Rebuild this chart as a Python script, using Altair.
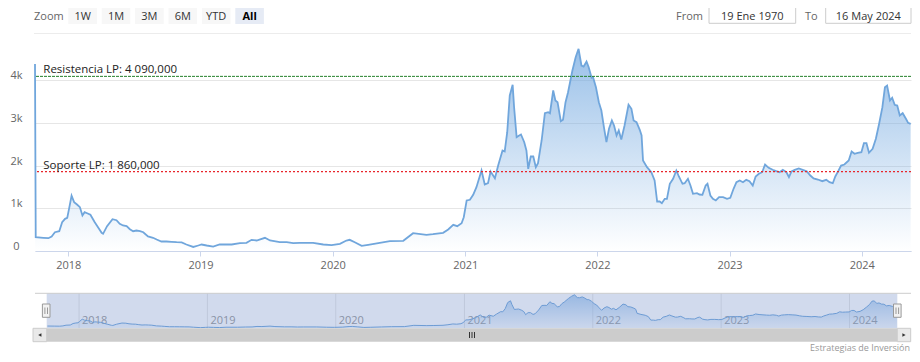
import altair as alt
import pandas as pd

# ---------------- data ----------------
dates = [
    "2017-10-01", "2017-10-03", "2017-10-24", "2017-11-07", "2017-11-16", "2017-11-25", "2017-12-07", "2017-12-15", "2017-12-23", "2017-12-29",
    "2018-01-03", "2018-01-10", "2018-01-17", "2018-01-25", "2018-02-02", "2018-02-09", "2018-02-15", "2018-02-22", "2018-03-03", "2018-03-15",
    "2018-03-24", "2018-04-03", "2018-04-07", "2018-04-18", "2018-05-03", "2018-05-14", "2018-05-23", "2018-06-01", "2018-06-11", "2018-06-20",
    "2018-06-29", "2018-07-08", "2018-07-18", "2018-07-27", "2018-08-09", "2018-08-23", "2018-09-02", "2018-09-15", "2018-09-29", "2018-10-13",
    "2018-10-27", "2018-11-10", "2018-11-23", "2018-12-12", "2018-12-26", "2019-01-04", "2019-01-18", "2019-02-05", "2019-02-23", "2019-03-28",
    "2019-04-20", "2019-05-08", "2019-05-22", "2019-06-05", "2019-06-28", "2019-07-12", "2019-08-08", "2019-08-27", "2019-09-14", "2019-10-02",
    "2019-11-08", "2019-12-06", "2019-12-29", "2020-01-21", "2020-02-08", "2020-02-17", "2020-03-02", "2020-03-21", "2020-04-08", "2020-05-10",
    "2020-06-07", "2020-07-14", "2020-08-10", "2020-09-16", "2020-10-04", "2020-11-01", "2020-11-15", "2020-11-29", "2020-12-10", "2020-12-22",
    "2020-12-28", "2021-01-05", "2021-01-14", "2021-01-23", "2021-02-01", "2021-02-15", "2021-02-24", "2021-03-05", "2021-03-12", "2021-03-24",
    "2021-04-02", "2021-04-14", "2021-04-20", "2021-04-27", "2021-05-04", "2021-05-12", "2021-05-16", "2021-05-23", "2021-05-30", "2021-06-04",
    "2021-06-13", "2021-06-19", "2021-06-24", "2021-07-01", "2021-07-08", "2021-07-15", "2021-07-21", "2021-07-31", "2021-08-09", "2021-08-18",
    "2021-08-23", "2021-09-01", "2021-09-07", "2021-09-13", "2021-09-22", "2021-09-28", "2021-10-05", "2021-10-12", "2021-10-24", "2021-11-02",
    "2021-11-10", "2021-11-18", "2021-11-24", "2021-12-02", "2021-12-08", "2021-12-16", "2021-12-20", "2021-12-28", "2022-01-05", "2022-01-12",
    "2022-01-19", "2022-01-26", "2022-02-02", "2022-02-10", "2022-02-16", "2022-02-23", "2022-03-01", "2022-03-08", "2022-03-17", "2022-03-28",
    "2022-04-05", "2022-04-11", "2022-04-19", "2022-04-28", "2022-05-03", "2022-05-07", "2022-05-18", "2022-05-30", "2022-06-08", "2022-06-15",
    "2022-06-22", "2022-06-28", "2022-07-06", "2022-07-12", "2022-07-20", "2022-07-29", "2022-08-07", "2022-08-14", "2022-08-24", "2022-08-30",
    "2022-09-08", "2022-09-15", "2022-09-22", "2022-10-03", "2022-10-10", "2022-10-18", "2022-10-27", "2022-11-01", "2022-11-09", "2022-11-16",
    "2022-11-24", "2022-12-03", "2022-12-14", "2022-12-25", "2023-01-03", "2023-01-12", "2023-01-20", "2023-01-29", "2023-02-07", "2023-02-16",
    "2023-02-25", "2023-03-06", "2023-03-14", "2023-03-23", "2023-04-01", "2023-04-09", "2023-04-19", "2023-04-30", "2023-05-10", "2023-05-19",
    "2023-05-28", "2023-06-07", "2023-06-14", "2023-06-21", "2023-06-30", "2023-07-11", "2023-07-22", "2023-08-02", "2023-08-12", "2023-08-21",
    "2023-09-02", "2023-09-14", "2023-09-25", "2023-10-04", "2023-10-13", "2023-10-20", "2023-10-28", "2023-11-05", "2023-11-14", "2023-11-26",
    "2023-12-04", "2023-12-12", "2023-12-21", "2023-12-31", "2024-01-07", "2024-01-14", "2024-01-21", "2024-01-31", "2024-02-09", "2024-02-18",
    "2024-02-27", "2024-03-05", "2024-03-11", "2024-03-19", "2024-03-25", "2024-04-01", "2024-04-08", "2024-04-15", "2024-04-23", "2024-05-02",
    "2024-05-08", "2024-05-15",
]
values = [
    4380, 323, 309, 300, 340, 440, 464, 675, 754, 777,
    988, 1293, 1143, 1089, 1026, 831, 909, 885, 848, 675,
    558, 426, 403, 581, 745, 721, 637, 597, 581, 511,
    464, 480, 464, 440, 340, 309, 269, 222, 222, 215,
    206, 200, 152, 95, 129, 152, 129, 105, 152, 152,
    183, 192, 262, 246, 309, 246, 206, 206, 183, 192,
    192, 152, 136, 169, 246, 262, 206, 122, 145, 192,
    230, 239, 417, 379, 393, 426, 503, 614, 581, 651,
    792, 1183, 1199, 1316, 1494, 1885, 1557, 1588, 1862, 1705,
    2002, 2354, 2330, 2782, 3642, 3892, 3368, 2665, 2705, 2728,
    2548, 2354, 1925, 2213, 2213, 1963, 2056, 2588, 3227, 3251,
    3227, 3759, 3525, 3485, 3040, 3072, 3485, 3719, 4227, 4539,
    4735, 4344, 4321, 4438, 4304, 4056, 4070, 3836, 3485, 3290,
    2899, 2548, 2862, 3056, 2939, 2705, 2822, 2611, 2939, 3424,
    3330, 3056, 3017, 2838, 2705, 2119, 1963, 1845, 1651, 1159,
    1159, 1120, 1222, 1222, 1574, 1691, 1885, 1745, 1574, 1588,
    1691, 1534, 1340, 1354, 1323, 1316, 1534, 1574, 1300, 1222,
    1183, 1260, 1260, 1222, 1246, 1457, 1611, 1651, 1611, 1667,
    1635, 1534, 1745, 1808, 1845, 2026, 1948, 1902, 1869, 1845,
    1902, 1845, 1729, 1862, 1902, 1932, 1902, 1869, 1768, 1698,
    1674, 1635, 1667, 1611, 1588, 1745, 1869, 2002, 2026, 2119,
    2330, 2276, 2300, 2314, 2525, 2525, 2300, 2393, 2628, 2979,
    3368, 3836, 3876, 3525, 3588, 3424, 3407, 3173, 3227, 3096,
    3002, 2979,
]

levels = [4090, 1860]
level_labels = ["Resistencia LP: 4 090,000", "Soporte LP: 1 860,000"]

year_ticks = ["2018-01-01", "2019-01-01", "2020-01-01", "2021-01-01",
              "2022-01-01", "2023-01-01", "2024-01-01"]
year_labels = ["2018", "2019", "2020", "2021", "2022", "2023", "2024"]
y_ticks = [0, 1000, 2000, 3000, 4000]

buttons = ["1W", "1M", "3M", "6M", "YTD", "All"]
selected_button = "All"
from_text = "19 Ene 1970"
to_text = "16 May 2024"
credits_text = "Estrategias de Inversión"

range_start = "2017-10-01"
range_end = "2024-05-16"

# ---------------- styles ----------------
FONT = "Open Sans"
LINE = "#70a6dc"
GRID = "#e6e6e6"
AXIS = "#ccd6eb"
LEVEL_COLORS = ["#23802a", "#e8262b"]
LEVEL_DASH = [[3, 1], [2, 2]]
LEVEL_WIDTH = [1, 1.3]


def ts(s):
    return int(pd.Timestamp(s, tz="UTC").timestamp() * 1000)


t0, t1 = ts(range_start), ts(range_end)
year_ts = [ts(s) for s in year_ticks]

df = pd.DataFrame({"date": dates, "value": values})
df_nav = df.iloc[1:]
df_years = pd.DataFrame({"date": year_ticks, "label": year_labels})
one = pd.DataFrame({"k": [0]})

W, H = 876, 207

# ---------------- main chart ----------------
xs_main = alt.Scale(type="utc", domain=[t0, t1])
ys_main = alt.Scale(domain=[0, 4848], nice=False)

x_axis = alt.Axis(values=year_ts, labelExpr="utcFormat(datum.value, '%Y')", title=None,
                  grid=False, domainColor=AXIS, tickColor=AXIS, tickSize=5,
                  labelColor="#666666", labelFont=FONT, labelFontSize=11,
                  labelPadding=3.5, labelBaseline="top", labelFlush=False)
y_axis = alt.Axis(values=y_ticks,
                  labelExpr="datum.value == 0 ? '0' : format(datum.value / 1000, 'd') + 'k'",
                  title=None, grid=True, gridColor=GRID, domain=False, ticks=False, tickSize=0,
                  labelColor="#666666", labelFont=FONT, labelFontSize=11, labelAlign="center",
                  labelPadding=19, labelBaseline="alphabetic", labelOffset=-1.5)

grad_main = alt.Gradient(
    gradient="linear",
    stops=[alt.GradientStop(color="#6fa6df", offset=0),
           alt.GradientStop(color="rgba(111,166,223,0)", offset=1)],
    x1=1, x2=1, y1=0, y2=1,
)

area = alt.Chart(df).mark_area(
    color=grad_main, line={"color": LINE, "strokeWidth": 1.8}
).encode(
    x=alt.X("date:T", scale=xs_main, axis=x_axis),
    y=alt.Y("value:Q", scale=ys_main, axis=y_axis),
)

main_layers = [area]
for i in range(len(levels)):
    ldf = pd.DataFrame({"level": [levels[i]], "label": [level_labels[i]]})
    main_layers.append(
        alt.Chart(ldf).mark_rule(color=LEVEL_COLORS[i], strokeWidth=LEVEL_WIDTH[i],
                                 strokeDash=LEVEL_DASH[i], opacity=1)
        .encode(y=alt.Y("level:Q", scale=ys_main, axis=y_axis))
    )
    main_layers.append(
        alt.Chart(ldf).mark_text(align="left", baseline="alphabetic", dy=-3, font=FONT,
                                 fontSize=11.5, color="#222222")
        .encode(x=alt.value(8.3), y=alt.Y("level:Q", scale=ys_main, axis=y_axis), text="label:N")
    )
main = alt.layer(*main_layers)

# ---------------- navigator ----------------
NAV_TOP, NAV_BOT = 249.3, 284.3
NAV_L, NAV_R = 11.7, 862.3
xs_nav = alt.Scale(type="utc", domain=[t0, t1], range=[NAV_L, NAV_R])
ys_nav = alt.Scale(domain=[0, 4950], range=[NAV_BOT, NAV_TOP], nice=False)

grad_nav = alt.Gradient(
    gradient="linear",
    stops=[alt.GradientStop(color="#8dbbea", offset=0),
           alt.GradientStop(color="rgba(141,187,234,0.1)", offset=1)],
    x1=1, x2=1, y1=0, y2=1,
)

nav_grid = alt.Chart(df_years).mark_rule(color=GRID, strokeWidth=1).encode(
    x=alt.X("date:T", scale=xs_nav, axis=None),
    y=alt.value(NAV_TOP), y2=alt.value(NAV_BOT),
)
nav_labels = alt.Chart(df_years).mark_text(
    align="left", baseline="middle", dx=3, font=FONT, fontSize=11, color="#999999"
).encode(
    x=alt.X("date:T", scale=xs_nav, axis=None), y=alt.value(277), text="label:N",
)
nav_area = alt.Chart(df_nav).mark_area(
    color=grad_nav, line={"color": LINE, "strokeWidth": 1}
).encode(
    x=alt.X("date:T", scale=xs_nav, axis=None),
    y=alt.Y("value:Q", scale=ys_nav, axis=None),
)
nav = alt.layer(nav_grid, nav_labels, nav_area)


# ---------------- chrome helpers ----------------
def rect(x1, x2, y1, y2, fill, stroke=None, opacity=1.0, sw=1):
    kw = dict(fill=fill, opacity=opacity)
    if stroke:
        kw.update(stroke=stroke, strokeWidth=sw)
    return alt.Chart(one).mark_rect(**kw).encode(
        x=alt.value(x1), x2=alt.value(x2), y=alt.value(y1), y2=alt.value(y2))


def seg(x1, x2, y1, y2, color, sw=1):
    return alt.Chart(one).mark_rule(color=color, strokeWidth=sw).encode(
        x=alt.value(x1), x2=alt.value(x2), y=alt.value(y1), y2=alt.value(y2))


def label(txt, x, y, size=11, color="#666666", align="left", weight="normal", baseline="middle"):
    return alt.Chart(one).mark_text(align=align, baseline=baseline, font=FONT, fontSize=size,
                                    color=color, fontWeight=weight).encode(
        x=alt.value(x), y=alt.value(y), text=alt.value(txt))


chrome = []
# mask over navigator + outline + handles
chrome.append(rect(NAV_L, NAV_R, NAV_TOP, NAV_BOT, "#6685c2", opacity=0.3))
chrome.append(seg(0, W, NAV_TOP, NAV_TOP, "#cccccc"))
for hc in (NAV_L - 0.5, NAV_R):
    chrome.append(rect(hc - 3.8, hc + 3.8, 260, 273.3, "#f2f2f2", stroke="#999999"))
    chrome.append(seg(hc - 1.3, hc - 1.3, 263.5, 270, "#999999"))
    chrome.append(seg(hc + 1.3, hc + 1.3, 263.5, 270, "#999999"))

# scrollbar
SB_T, SB_B = NAV_BOT, 297.7
chrome.append(rect(NAV_L, NAV_R, SB_T, SB_B, "#cccccc"))
chrome.append(rect(-2, NAV_L, SB_T, SB_B, "#e9e9e9", stroke="#cccccc"))
chrome.append(rect(NAV_R, W - 0.3, SB_T, SB_B, "#e9e9e9", stroke="#cccccc"))
mid = (NAV_L + NAV_R) / 2
for dxr in (-2.5, 0, 2.5):
    chrome.append(seg(mid + dxr, mid + dxr, 288, 294, "#333333"))
chrome.append(alt.Chart(one).mark_point(shape="triangle-left", filled=True, size=14, color="#333333",
                                        opacity=1).encode(x=alt.value(4.8), y=alt.value(291)))
chrome.append(alt.Chart(one).mark_point(shape="triangle-right", filled=True, size=14, color="#333333",
                                        opacity=1).encode(x=alt.value(869), y=alt.value(291)))

# credits
chrome.append(label(credits_text, W - 1, 304, size=9, color="#999999", align="right"))

# range selector header (text baselines placed so the glyph boxes stay inside the page)
HY = -24.3
chrome.append(label("Zoom", -1, HY, size=11, color="#666666", baseline="alphabetic"))
bx0, bstep, bw = 33.3, 33.4, 28.6
for i, b in enumerate(buttons):
    x1 = bx0 + i * bstep
    sel = b == selected_button
    chrome.append(rect(x1, x1 + bw, -40, -20, "#e6ebf5" if sel else "#f7f7f7"))
    chrome.append(label(b, x1 + bw / 2, HY, size=11, color="#000000" if sel else "#333333",
                        align="center", weight="bold" if sel else "normal", baseline="alphabetic"))
chrome.append(seg(-1, W, -10.5, -10.5, "#ececec"))

chrome.append(label("From", 668, HY, size=11, color="#666666", align="right", baseline="alphabetic"))
chrome.append(rect(674, 760.7, -40, -20.7, "#ffffff", stroke="#cccccc"))
chrome.append(label(from_text, 717.3, HY, size=11, color="#333333", align="center", baseline="alphabetic"))
chrome.append(label("To", 770, HY, size=11, color="#666666", baseline="alphabetic"))
chrome.append(rect(790.7, 876, -40, -20.7, "#ffffff", stroke="#cccccc"))
chrome.append(label(to_text, 833.3, HY, size=11, color="#333333", align="center", baseline="alphabetic"))

chart = alt.layer(main, nav, *chrome).resolve_scale(
    x="independent", y="independent"
).properties(
    width=W, height=H,
    autosize=alt.AutoSizeParams(type="none"),
    padding={"left": 27, "top": 36, "right": 1, "bottom": 103},
    background="white",
).configure_view(stroke=None)

chart.save("out.html", embed_options={"renderer": "svg", "actions": False})
